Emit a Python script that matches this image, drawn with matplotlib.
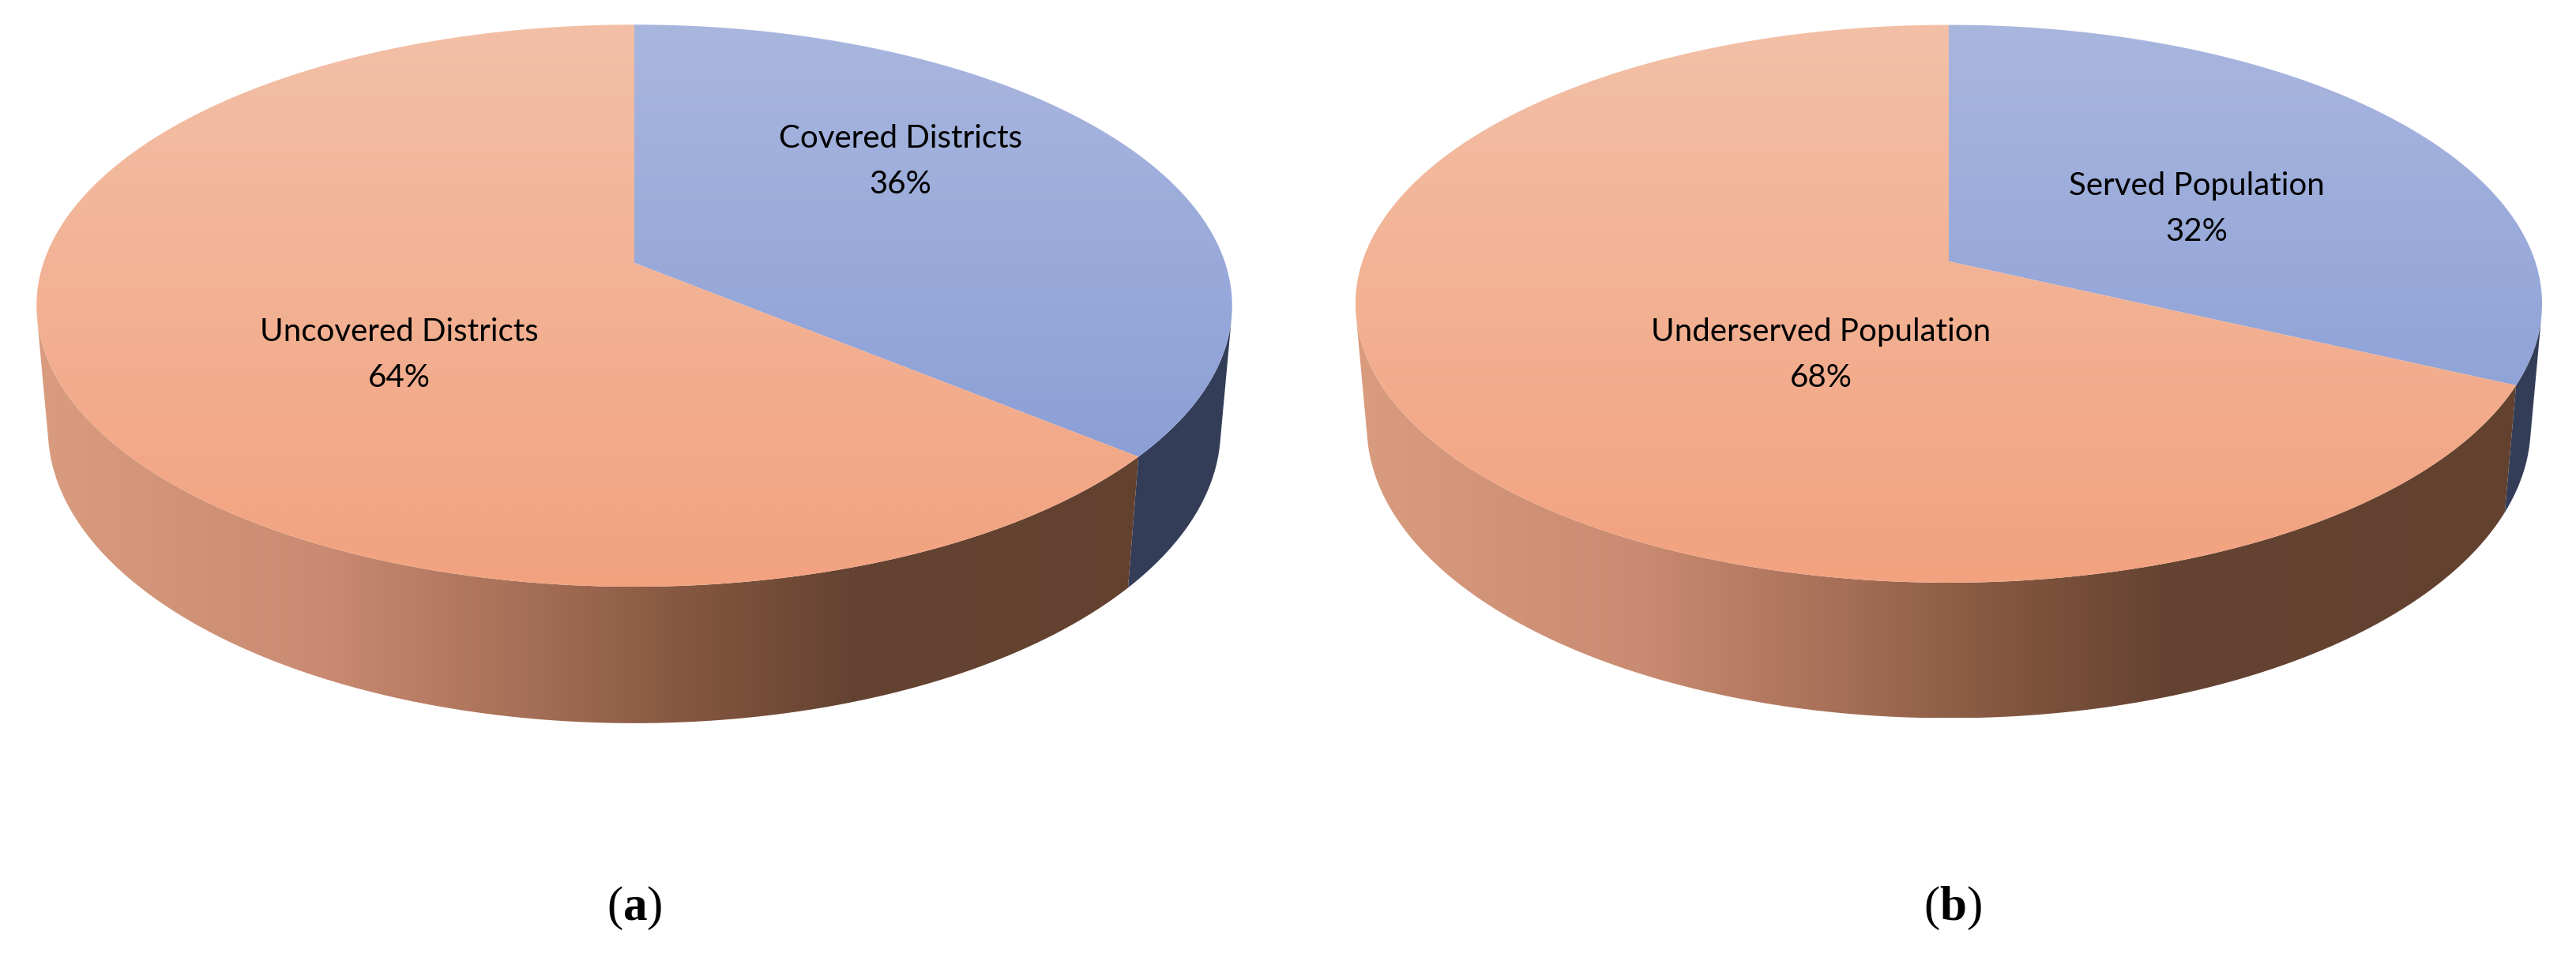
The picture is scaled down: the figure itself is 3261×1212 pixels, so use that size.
import numpy as np
import matplotlib
matplotlib.use("Agg")
import matplotlib.pyplot as plt
from matplotlib.patches import Polygon
from matplotlib.colors import LinearSegmentedColormap

# ---------------- data ----------------
categories_a = ["Covered Districts", "Uncovered Districts"]
values_a = [36, 64]
categories_b = ["Served Population", "Underserved Population"]
values_b = [32, 68]
panel_labels = ["a", "b"]

# ---------------- layout / style ----------------
W, H = 3262, 1212
plt.rcParams['mathtext.fontset'] = 'custom'
plt.rcParams['mathtext.rm'] = 'Liberation Serif'
plt.rcParams['mathtext.bf'] = 'Liberation Serif:bold'

fig = plt.figure(figsize=(W / 100, H / 100), dpi=100)
ax = fig.add_axes([0, 0, 1, 1])

# simple perspective camera for a 3-D pie
alpha = np.deg2rad(27.7)   # elevation
d = 5.82                   # camera distance (in pie radii)
h = 0.238                  # pie thickness (in pie radii)


def project(X, Y, Z, cx, cy, F):
    depth = d + Y * np.cos(alpha) - Z * np.sin(alpha)
    sx = cx + F * X / depth
    sy = cy - F * (Y * np.sin(alpha) + Z * np.cos(alpha)) / depth
    return sx, sy


def slice_intervals(values):
    total = float(sum(values))
    out = []
    start = 90.0
    for v in values:
        end = start - 360.0 * v / total
        out.append((end, start))
        start = end
    return out


def visible_parts(lo, hi, vlo, vhi):
    segs = []
    for s in (-720, -360, 0, 360):
        a, b = max(lo + s, vlo), min(hi + s, vhi)
        if b > a:
            segs.append((a, b))
    return segs


top_colors = [['#a9b6de', '#8399d4'], ['#f3c0a7', '#f2a27f']]
side_cmaps = [
    LinearSegmentedColormap.from_list('sb', [(0, '#3b4662'), (1, '#333d58')]),
    LinearSegmentedColormap.from_list('so', [(0.0, '#d99c7f'), (0.24, '#c98b71'),
                                             (0.42, '#a46d55'), (0.55, '#83563f'),
                                             (0.68, '#654332'), (1.0, '#62412f')]),
]


def draw_pie(values, cx, cy, F):
    vis = np.degrees(np.arcsin(1.0 / (d * np.cos(alpha))))
    vlo, vhi = -180 + vis, -vis
    ivs = slice_intervals(values)
    ph = np.linspace(0, 2 * np.pi, 1441)
    tx, ty = project(np.cos(ph), np.sin(ph), 0, cx, cy, F)
    bx, by = project(np.cos(ph), np.sin(ph), -h, cx, cy, F)
    xmin, xmax = tx.min(), tx.max()
    ytop, ybot = ty.min(), ty.max()
    ybot2 = by.max()
    # side walls
    for (lo, hi), cmap in zip(ivs, side_cmaps):
        for a, b in visible_parts(lo, hi, vlo, vhi):
            p = np.radians(np.linspace(a, b, 300))
            x1, y1 = project(np.cos(p), np.sin(p), 0, cx, cy, F)
            x2, y2 = project(np.cos(p), np.sin(p), -h, cx, cy, F)
            xs = np.concatenate([x1, x2[::-1]])
            ys = np.concatenate([y1, y2[::-1]])
            poly = Polygon(np.column_stack([xs, ys]), closed=True, fc='none', ec='none')
            ax.add_patch(poly)
            grad = cmap(np.linspace(0, 1, 512))[None, :, :3]
            im = ax.imshow(grad, extent=[xmin, xmax, ybot2, ytop], aspect='auto',
                           interpolation='bilinear', zorder=1)
            im.set_clip_path(poly)
    # top faces
    for (lo, hi), cols in zip(ivs, top_colors):
        p = np.radians(np.linspace(hi, lo, 600))
        x1, y1 = project(np.cos(p), np.sin(p), 0, cx, cy, F)
        xs = np.concatenate([[cx], x1])
        ys = np.concatenate([[cy], y1])
        poly = Polygon(np.column_stack([xs, ys]), closed=True, fc='none', ec='none')
        ax.add_patch(poly)
        cm = LinearSegmentedColormap.from_list('t', cols)
        grad = cm(np.linspace(0, 1, 512))[:, None, :3]
        im = ax.imshow(grad, extent=[xmin, xmax, ybot, ytop], aspect='auto',
                       interpolation='bilinear', zorder=2)
        im.set_clip_path(poly)


def draw_labels(cats, values, layout):
    for cat, v, (x, y1, y2) in zip(cats, values, layout):
        ax.text(x, y1, cat, ha='center', va='baseline', fontsize=29,
                family=['Lato', 'DejaVu Sans'], color='black', zorder=5)
        ax.text(x, y2, f"{v}%", ha='center', va='baseline', fontsize=29,
                family=['Lato', 'DejaVu Sans'], color='black', zorder=5)


F = 4353
draw_pie(values_a, 803, 333, F)
draw_pie(values_b, 2467, 331, 4320)
draw_labels(categories_a, values_a, [(1140, 187, 245), (505, 432, 490)])
draw_labels(categories_b, values_b, [(2781, 247, 305), (2305, 432, 490)])

for lab, x in zip(panel_labels, [803, 2472]):
    ax.text(x, 1165, r"$\mathrm{(}\mathbf{" + lab + r"}\mathrm{)}$", ha='center',
            va='baseline', fontsize=44, color='black')

ax.set_xlim(0, W)
ax.set_ylim(H, 0)
ax.axis('off')
fig.savefig('out.png', dpi=100, facecolor='white')
